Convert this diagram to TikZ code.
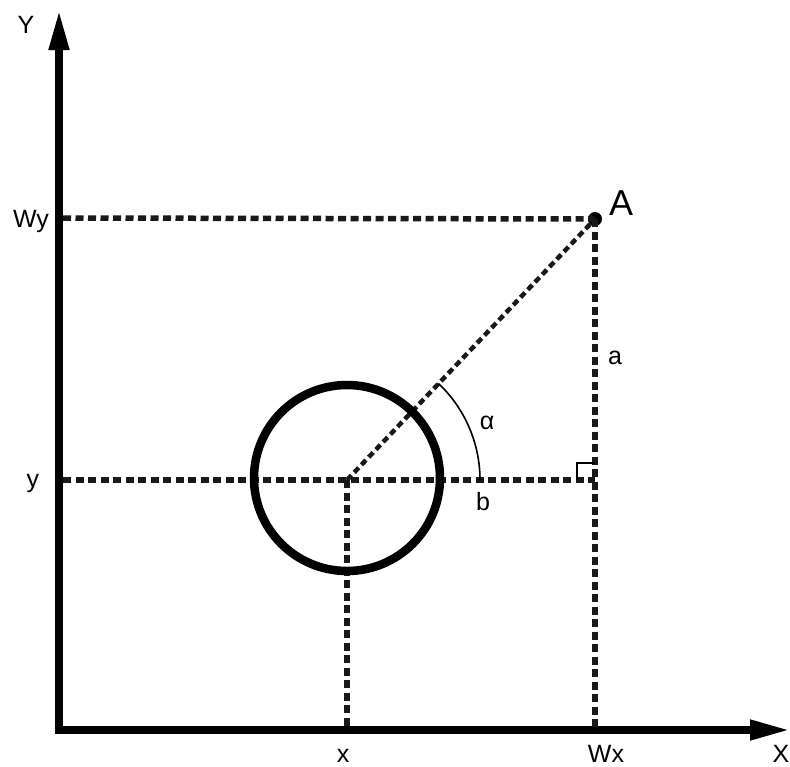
\documentclass[tikz,border=0pt]{standalone}
\usepackage{fontspec}
\setmainfont{Liberation Sans}
\usetikzlibrary{arrows.meta}
\begin{document}
\begin{tikzpicture}[x=1pt,y=-1pt,
  axis/.style={line width=7.5pt,-{Triangle[length=40pt,width=19pt]}},
  dline/.style={line width=5.5pt,dash pattern=on 8pt off 4.5pt,color=black!90},
  diag/.style={line width=4.5pt,dash pattern=on 6.5pt off 4pt,color=black!90},
  lbl/.style={font=\fontsize{25}{30}\selectfont,inner sep=0pt,anchor=base},
  biglbl/.style={font=\fontsize{36}{40}\selectfont,inner sep=0pt,anchor=base},
  thin/.style={line width=1.6pt},
]
\useasboundingbox (0,0) rectangle (790,766);
% key points
\coordinate (ybot) at (59,734);
\coordinate (ytip) at (59,10);
\coordinate (xleft) at (55,730);
\coordinate (xtip) at (790,730);
\coordinate (WyL) at (63,218);
\coordinate (yL) at (63,480);
\coordinate (C) at (347,480);
\coordinate (Cx) at (347,730);
\coordinate (F) at (595,480);
\coordinate (Wxb) at (595,730);
\coordinate (arcS) at (480,480);
\coordinate (raA) at (577,480);
\coordinate (raB) at (577,463);
\coordinate (raC) at (595,463);
\node[circle,fill=black,inner sep=0pt,minimum size=14pt] (A) at (595,219) {};
% axes
\draw[axis] (ybot) -- (ytip);
\draw[axis] (xleft) -- (xtip);
% dashed guides
\draw[dline] (WyL) -- (A.center);
\draw[dline] (A.center) -- (Wxb);
\draw[dline] (yL) -- (F);
\draw[dline] (C) -- (Cx);
\draw[diag] (C) -- (A.center);
% circle
\draw[line width=8.5pt] (347,478) circle (93);
% angle arc and right angle mark
\draw[thin] (arcS) arc[start angle=0,end angle=-46.6,radius=133];
\draw[line width=2.8pt] (raA) -- (raB) -- (raC);
% labels
\node[lbl] (lY) at (26,33) {Y};
\node[lbl] (lWy) at (31,227) {Wy};
\node[lbl] (ly) at (33,487) {y};
\node[lbl] (lx) at (343,762) {x};
\node[lbl] (lWx) at (606,762) {Wx};
\node[lbl] (lX) at (781,762) {X};
\node[biglbl] (lA) at (621,215) {A};
\node[lbl] (la) at (615,364) {a};
\node[lbl] (lalpha) at (487,429) {α};
\node[lbl] (lb) at (483,510) {b};
\end{tikzpicture}
\end{document}
